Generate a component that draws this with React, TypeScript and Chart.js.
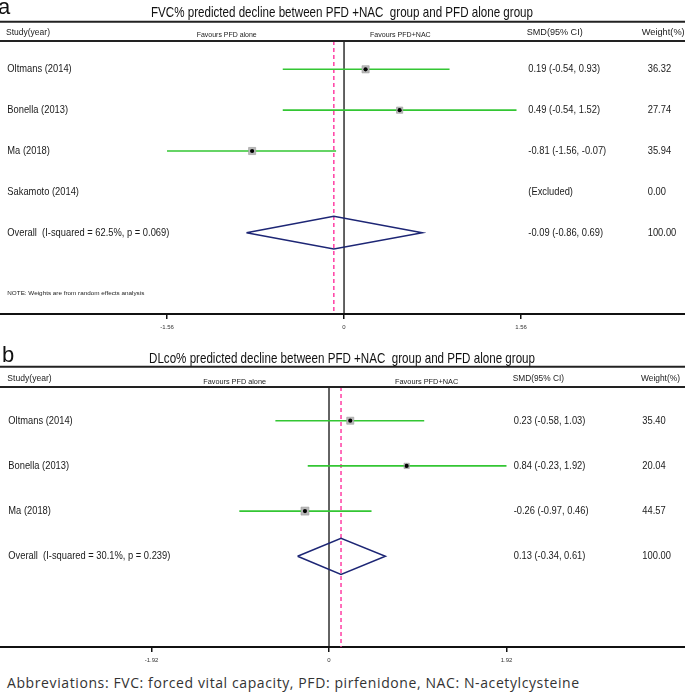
import React, { useEffect, useRef } from "react";
import { Chart, registerables } from "chart.js";

Chart.register(...registerables);

// ---------------- Panel a data ----------------
const titleA = "FVC% predicted decline between PFD +NAC  group and PFD alone group";
const studiesA = ["Oltmans (2014)", "Bonella (2013)", "Ma (2018)", "Sakamoto (2014)"];
const smdA: (number | null)[] = [0.19, 0.49, -0.81, null];
const lowerA: (number | null)[] = [-0.54, -0.54, -1.56, null];
const upperA: (number | null)[] = [0.93, 1.52, -0.07, null];
const weightA = [36.32, 27.74, 35.94, 0.0];
const overallA = [-0.09, -0.86, 0.69]; // estimate, lower, upper
const overallLabelA = "Overall  (I-squared = 62.5%, p = 0.069)";
const ticksA = [-1.56, 0, 1.56];
const noteA = "NOTE: Weights are from random effects analysis";

// ---------------- Panel b data ----------------
const titleB = "DLco% predicted decline between PFD +NAC  group and PFD alone group";
const studiesB = ["Oltmans (2014)", "Bonella (2013)", "Ma (2018)"];
const smdB: (number | null)[] = [0.23, 0.84, -0.26];
const lowerB: (number | null)[] = [-0.58, -0.23, -0.97];
const upperB: (number | null)[] = [1.03, 1.92, 0.46];
const weightB = [35.4, 20.04, 44.57];
const overallB = [0.13, -0.34, 0.61];
const overallLabelB = "Overall  (I-squared = 30.1%, p = 0.239)";
const ticksB = [-1.92, 0, 1.92];

const headers = ["Study(year)", "Favours PFD alone", "Favours PFD+NAC", "SMD(95% CI)", "Weight(%)"];
const abbreviations =
  "Abbreviations: FVC: forced vital capacity, PFD: pirfenidone, NAC: N-acetylcysteine";

const SANS = "'Liberation Sans', Arial, sans-serif";
const NARROW = "'Liberation Sans Narrow', 'Liberation Sans', Arial, sans-serif";

type Box = { x: number; y: number; w: number };

type PanelLayout = {
  letter: string;
  letterX: number;
  letterY: number;
  height: number;
  padTop: number;
  axisH: number;
  xMin: number;
  xMax: number;
  yMin: number;
  yMax: number;
  titleY: number;
  titleW: number;
  titleLineY: number;
  head: Box[];
  labelX: number;
  smdX: number;
  weightX: number;
  noteRow?: number;
  tickPad: number;
};

function drawText(
  ctx: CanvasRenderingContext2D,
  text: string,
  x: number,
  y: number,
  font: string,
  o: { width?: number; sx?: number; align?: "left" | "center"; color?: string; baseline?: CanvasTextBaseline } = {}
) {
  ctx.save();
  ctx.font = font;
  ctx.fillStyle = o.color ?? "#1a1a1a";
  ctx.textBaseline = o.baseline ?? "middle";
  ctx.textAlign = "left";
  const w = ctx.measureText(text).width;
  const sx = o.width ? o.width / w : o.sx ?? 1;
  const dw = w * sx;
  const left = o.align === "center" ? x - dw / 2 : x;
  ctx.translate(left, y);
  ctx.scale(sx, 1);
  ctx.fillText(text, 0, 0);
  ctx.restore();
}

const fmt = (v: number) => v.toFixed(2);

function buildChart(
  canvas: HTMLCanvasElement,
  title: string,
  studies: string[],
  smd: (number | null)[],
  lower: (number | null)[],
  upper: (number | null)[],
  weight: number[],
  overall: number[],
  overallLabel: string,
  ticks: number[],
  L: PanelLayout,
  note?: string
) {
  const n = studies.length;
  const overallRow = n;
  const datasets: any[] = [];

  // zero (no effect) line
  datasets.push({
    order: 5,
    data: [
      { x: 0, y: L.yMin },
      { x: 0, y: L.yMax },
    ],
    showLine: true,
    borderColor: "#111",
    borderWidth: 1.3,
    pointRadius: 0,
  });
  // overall estimate dashed line
  datasets.push({
    order: 4,
    data: [
      { x: overall[0], y: L.yMin },
      { x: overall[0], y: L.yMax },
    ],
    showLine: true,
    borderColor: "#ff3fa4",
    borderWidth: 1.5,
    borderDash: [4, 3],
    pointRadius: 0,
  });
  // confidence intervals
  for (let i = 0; i < n; i++) {
    if (lower[i] == null || upper[i] == null) continue;
    datasets.push({
      order: 3,
      data: [
        { x: lower[i], y: i },
        { x: upper[i], y: i },
      ],
      showLine: true,
      borderColor: "#33c633",
      borderWidth: 1.6,
      pointRadius: 0,
    });
  }
  // weight squares
  const sq: any[] = [];
  const dots: any[] = [];
  const sqR: number[] = [];
  for (let i = 0; i < n; i++) {
    if (smd[i] == null) continue;
    sq.push({ x: smd[i], y: i });
    dots.push({ x: smd[i], y: i });
    sqR.push(0.84 * Math.sqrt(weight[i]));
  }
  datasets.push({
    order: 2,
    data: sq,
    showLine: false,
    pointStyle: "rect",
    pointRadius: sqR,
    backgroundColor: "#b9b9b9",
    borderColor: "#9a9a9a",
    borderWidth: 0.6,
  });
  // estimate dots
  datasets.push({
    order: 1,
    data: dots,
    showLine: false,
    pointStyle: "circle",
    pointRadius: 2.1,
    backgroundColor: "#000",
    borderColor: "#000",
    borderWidth: 0,
  });
  // overall diamond
  const h = 0.4;
  datasets.push({
    order: 2,
    data: [
      { x: overall[1], y: overallRow },
      { x: overall[0], y: overallRow - h },
      { x: overall[2], y: overallRow },
      { x: overall[0], y: overallRow + h },
      { x: overall[1], y: overallRow },
    ],
    showLine: true,
    fill: false,
    borderColor: "#1d2675",
    borderWidth: 1.5,
    pointRadius: 0,
    tension: 0,
  });

  const textPlugin = {
    id: "forestText",
    afterDraw(chart: any) {
      const ctx: CanvasRenderingContext2D = chart.ctx;
      const ys = chart.scales.y;
      const W = chart.width;
      // panel letter
      drawText(ctx, L.letter, L.letterX, L.letterY, `22px ${SANS}`, { baseline: "alphabetic", color: "#111" });
      // title
      drawText(ctx, title, 342, L.titleY, `15px ${NARROW}`, {
        width: L.titleW,
        align: "center",
        baseline: "alphabetic",
        color: "#111",
      });
      // rules
      ctx.save();
      ctx.strokeStyle = "#222";
      ctx.lineWidth = 2;
      ctx.beginPath();
      ctx.moveTo(0, L.titleLineY);
      ctx.lineTo(W, L.titleLineY);
      ctx.moveTo(0, chart.chartArea.top);
      ctx.lineTo(W, chart.chartArea.top);
      ctx.stroke();
      ctx.restore();
      // headers
      headers.forEach((t, k) => {
        const b = L.head[k];
        drawText(ctx, t, b.x, b.y, `${k === 1 || k === 2 ? 7.5 : 8.5}px ${SANS}`, { width: b.w });
      });
      // rows
      const rowFont = `10.5px ${SANS}`;
      const sx = 0.89;
      for (let i = 0; i < n; i++) {
        const y = ys.getPixelForValue(i);
        drawText(ctx, studies[i], L.labelX, y, rowFont, { sx });
        const txt =
          smd[i] == null
            ? "(Excluded)"
            : `${fmt(smd[i] as number)} (${fmt(lower[i] as number)}, ${fmt(upper[i] as number)})`;
        drawText(ctx, txt, L.smdX, y, rowFont, { sx });
        drawText(ctx, fmt(weight[i]), L.weightX, y, rowFont, { sx });
      }
      const yo = ys.getPixelForValue(overallRow);
      drawText(ctx, overallLabel, L.labelX, yo, rowFont, { sx });
      drawText(ctx, `${fmt(overall[0])} (${fmt(overall[1])}, ${fmt(overall[2])})`, L.smdX, yo, rowFont, { sx });
      drawText(ctx, fmt(100), L.weightX, yo, rowFont, { sx });
      if (note && L.noteRow != null) {
        drawText(ctx, note, L.labelX, ys.getPixelForValue(L.noteRow), `6px ${SANS}`, { width: 137 });
      }
    },
  };

  return new Chart(canvas, {
    type: "scatter",
    data: { datasets },
    options: {
      animation: false,
      responsive: false,
      devicePixelRatio: 1,
      events: [],
      layout: { autoPadding: false, padding: { top: L.padTop, left: 0, right: 0, bottom: 0 } },
      plugins: { legend: { display: false }, tooltip: { enabled: false }, title: { display: false } },
      scales: {
        x: {
          type: "linear",
          position: "bottom",
          min: L.xMin,
          max: L.xMax,
          border: { display: true, color: "#111", width: 2 },
          grid: { display: true, drawOnChartArea: false, drawTicks: true, tickLength: 5, color: "#111", lineWidth: 1.5 },
          ticks: {
            autoSkip: false,
            maxRotation: 0,
            padding: L.tickPad,
            color: "#333",
            font: { size: 6, family: SANS },
            callback: (v: any) => String(v),
          },
          afterBuildTicks: (s: any) => {
            s.ticks = ticks.map((v) => ({ value: v }));
          },
          afterFit: (s: any) => {
            s.height = L.axisH;
          },
        },
        y: {
          type: "linear",
          display: false,
          reverse: true,
          min: L.yMin,
          max: L.yMax,
        },
      },
    } as any,
    plugins: [textPlugin],
  });
}

const layoutA: PanelLayout = {
  letter: "a",
  letterX: -2,
  letterY: 14,
  height: 340,
  padTop: 41,
  axisH: 26,
  xMin: -3.032,
  xMax: 3.005,
  yMin: -0.693,
  yMax: 5.99,
  titleY: 17,
  titleW: 382,
  titleLineY: 21.7,
  head: [
    { x: 6, y: 33, w: 44 },
    { x: 196.7, y: 35, w: 60 },
    { x: 370, y: 35, w: 60.7 },
    { x: 526.7, y: 33, w: 56 },
    { x: 641.7, y: 33, w: 43 },
  ],
  labelX: 7.3,
  smdX: 528.3,
  weightX: 647.7,
  noteRow: 5.48,
  tickPad: 5,
};

const layoutB: PanelLayout = {
  letter: "b",
  letterX: 2,
  letterY: 22,
  height: 332,
  padTop: 47,
  axisH: 25,
  xMin: -3.559,
  xMax: 3.851,
  yMin: -0.746,
  yMax: 5.007,
  titleY: 23,
  titleW: 386,
  titleLineY: 26.7,
  head: [
    { x: 7.3, y: 38.5, w: 44.4 },
    { x: 203.3, y: 41.5, w: 62.7 },
    { x: 395, y: 41.5, w: 63.3 },
    { x: 512.7, y: 39, w: 51.3 },
    { x: 641, y: 39, w: 39 },
  ],
  labelX: 8.3,
  smdX: 513.7,
  weightX: 642.3,
  tickPad: 5,
};

export default function App() {
  const refA = useRef<HTMLCanvasElement | null>(null);
  const refB = useRef<HTMLCanvasElement | null>(null);

  useEffect(() => {
    const a = buildChart(
      refA.current!, titleA, studiesA, smdA, lowerA, upperA, weightA, overallA, overallLabelA, ticksA, layoutA, noteA
    );
    const b = buildChart(
      refB.current!, titleB, studiesB, smdB, lowerB, upperB, weightB, overallB, overallLabelB, ticksB, layoutB
    );
    return () => {
      a.destroy();
      b.destroy();
    };
  }, []);

  return (
    <div style={{ position: "absolute", left: 0, top: 0, width: 685, height: 697, background: "#fff", overflow: "hidden" }}>
      <canvas ref={refA} width={685} height={340} style={{ position: "absolute", left: 0, top: 0, width: 685, height: 340 }} />
      <canvas ref={refB} width={685} height={332} style={{ position: "absolute", left: 0, top: 340, width: 685, height: 332 }} />
      <div
        style={{
          position: "absolute",
          left: 7,
          top: 674,
          fontFamily: "'Open Sans', 'Noto Sans', sans-serif",
          fontSize: 14,
          letterSpacing: "0.6px",
          lineHeight: "18px",
          color: "#333",
          whiteSpace: "nowrap",
        }}
      >
        {abbreviations}
      </div>
    </div>
  );
}
